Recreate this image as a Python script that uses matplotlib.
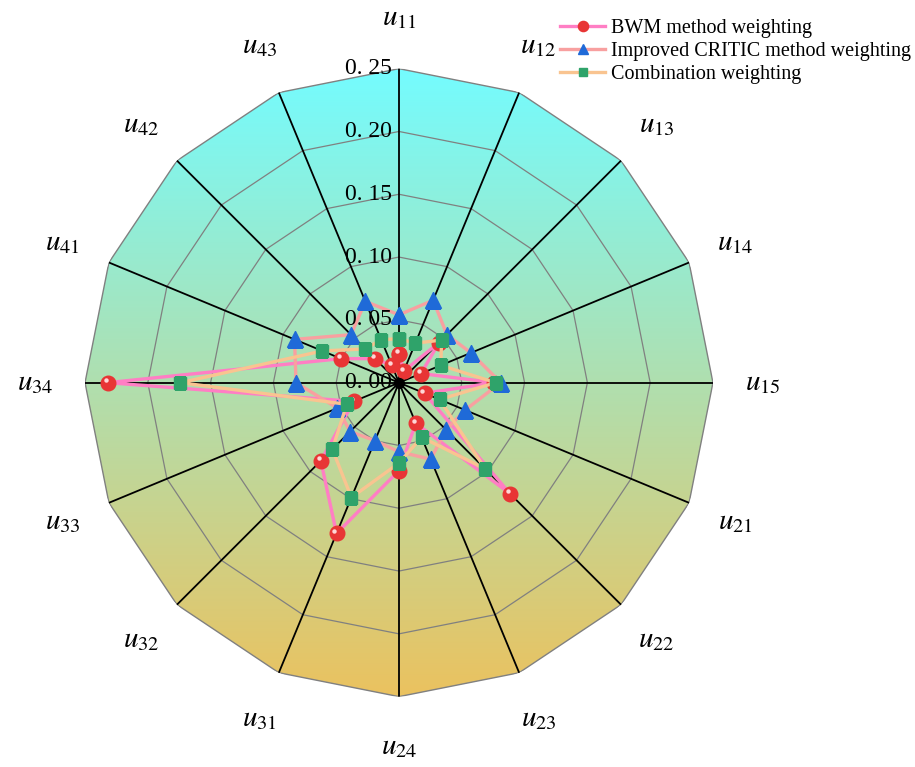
import numpy as np
import matplotlib.pyplot as plt
from matplotlib.transforms import offset_copy, ScaledTranslation
from matplotlib.colors import LinearSegmentedColormap

plt.rcParams['mathtext.fontset'] = 'stix'
plt.rcParams['font.family'] = ['Liberation Serif', 'DejaVu Serif']

labels = ['u_{11}', 'u_{12}', 'u_{13}', 'u_{14}', 'u_{15}',
          'u_{21}', 'u_{22}', 'u_{23}', 'u_{24}',
          'u_{31}', 'u_{32}', 'u_{33}', 'u_{34}',
          'u_{41}', 'u_{42}', 'u_{43}']
bwm = [0.023, 0.010, 0.045, 0.019, 0.076, 0.022, 0.125, 0.035,
       0.070, 0.130, 0.088, 0.039, 0.232, 0.050, 0.027, 0.015]
critic = [0.054, 0.071, 0.054, 0.062, 0.081, 0.057, 0.053, 0.066,
          0.055, 0.050, 0.055, 0.053, 0.082, 0.090, 0.054, 0.070]
combo = [0.035, 0.034, 0.048, 0.036, 0.077, 0.035, 0.097, 0.047,
         0.064, 0.099, 0.075, 0.045, 0.174, 0.066, 0.038, 0.037]
rings = [0.05, 0.10, 0.15, 0.20, 0.25]
ring_labels = ['0. 05', '0. 10', '0. 15', '0. 20', '0. 25']

n = len(labels)
ang = np.linspace(0, 2 * np.pi, n, endpoint=False)
ang_c = np.append(ang, ang[0])

def close(v):
    return np.append(v, v[0])

fig = plt.figure(figsize=(9.15, 7.67), dpi=100)
rect = [0.0929, 0.0917, 0.6863, 0.8188]

# gradient background, clipped to the outer polygon
bg = fig.add_axes(rect)
bg.axis('off')
cmap = LinearSegmentedColormap.from_list('bg', ['#EBC25F', '#74FCFF'])
grad = np.linspace(0, 1, 256).reshape(-1, 1)
im = bg.imshow(grad, cmap=cmap, origin='lower', extent=[-1, 1, -1, 1], aspect='auto')
bg.set_xlim(-1, 1)
bg.set_ylim(-1, 1)

ax = fig.add_axes(rect, projection='polar')
ax.set_theta_zero_location('N')
ax.set_theta_direction(-1)
ax.set_ylim(0, 0.25)
ax.axis('off')

outer = ax.fill(ang_c, [0.25] * (n + 1), facecolor='none', edgecolor='#808080', lw=1.0, zorder=1)[0]
im.set_clip_path(outer)

for r in rings[:-1]:
    ax.plot(ang_c, [r] * (n + 1), color='#808080', lw=0.9, zorder=1)
for a in ang:
    ax.plot([a, a], [0, 0.25], color='black', lw=1.3, zorder=2)

ax.plot(ang_c, close(bwm), color='#FF7EC4', lw=2.4, marker='o', ms=10.5,
        mfc='#E83535', mec='#E83535', zorder=4, label='BWM method weighting')
hl = ax.transData + ScaledTranslation(-1.5 / 72, 1.8 / 72, fig.dpi_scale_trans)
ax.plot(ang, bwm, 'o', ms=3.2, color='#FFD6D6', mec='none', transform=hl, zorder=4.1)
ax.plot(ang_c, close(critic), color='#F8A0A0', lw=2.4, marker='^', ms=11,
        mfc='#1F6AD8', mec='#1F6AD8', zorder=5, label='Improved CRITIC method weighting')
ax.plot(ang_c, close(combo), color='#F9C490', lw=2.4, marker='s', ms=9,
        mfc='#2FA36A', mec='#2FA36A', zorder=6, label='Combination weighting')

ax.plot([0], [0], 'o', color='black', ms=7, zorder=7)

tick_tr = offset_copy(ax.transData, fig=fig, x=-7, y=0, units='dots')
ax.text(0, 0, '0. 00', transform=tick_tr, ha='right', va='center', fontsize=17, zorder=8)
for r, t in zip(rings, ring_labels):
    ax.text(0, r, t, transform=tick_tr, ha='right', va='center', fontsize=17, zorder=8)

for a, lab in zip(ang, labels):
    ax.text(a, 0.29, '$' + lab + '$', ha='center', va='center', fontsize=21)

fig.legend(loc='upper right', bbox_to_anchor=(1.013, 0.996), frameon=False,
           fontsize=14.5, handlelength=2.2, labelspacing=0.18, handletextpad=0.3,
           markerscale=0.7, borderaxespad=0.4)

fig.savefig('out.png', dpi=100)
